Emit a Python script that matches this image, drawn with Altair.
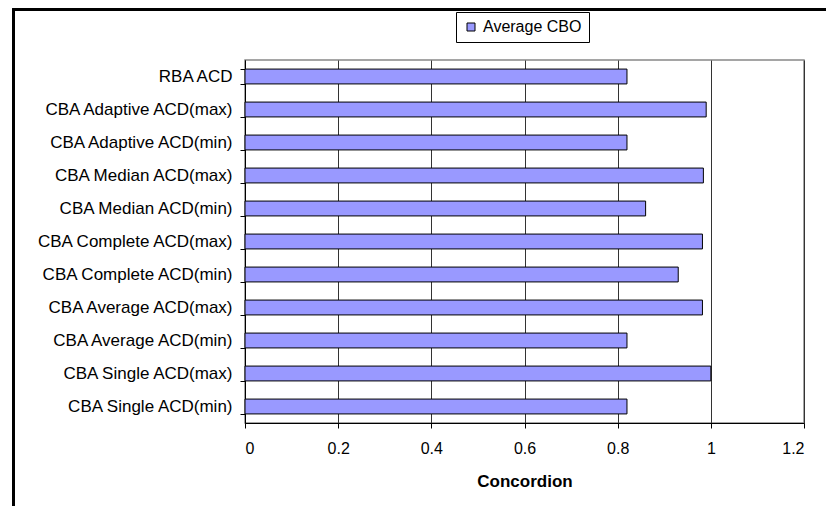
import altair as alt
import pandas as pd

# Categories listed top to bottom, with the average CBO concordance of each
methods = [
    "RBA ACD",
    "CBA Adaptive ACD(max)",
    "CBA Adaptive ACD(min)",
    "CBA Median ACD(max)",
    "CBA Median ACD(min)",
    "CBA Complete ACD(max)",
    "CBA Complete ACD(min)",
    "CBA Average ACD(max)",
    "CBA Average ACD(min)",
    "CBA Single ACD(max)",
    "CBA Single ACD(min)",
]
avg_cbo = [0.82, 0.99, 0.82, 0.984, 0.86, 0.982, 0.93, 0.982, 0.82, 1.0, 0.82]
series_name = "Average CBO"
x_ticks = [0, 0.2, 0.4, 0.6, 0.8, 1.0, 1.2]

df = pd.DataFrame({"method": methods, "value": avg_cbo, "series": series_name})

FONT = "Liberation Sans"

bars = alt.Chart(df).mark_bar(
    stroke="#000000", strokeWidth=1, color="#9999FF"
).encode(
    x=alt.X(
        "value:Q",
        scale=alt.Scale(domain=[0, 1.2], nice=False),
        axis=alt.Axis(
            values=x_ticks,
            format="~g",
            title="Concordion",
            grid=True,
            gridColor="#333333",
            gridWidth=1,
            tickSize=5,
            labelPadding=12,
            titlePadding=17,
        ),
    ),
    y=alt.Y(
        "method:N",
        sort=methods,
        scale=alt.Scale(paddingInner=0.55, paddingOuter=0.275),
        axis=alt.Axis(
            title=None,
            tickBand="extent",
            tickSize=5,
            labelPadding=8,
            labelLimit=0,
            labelFontSize=17,
            grid=False,
        ),
    ),
    color=alt.Color(
        "series:N",
        scale=alt.Scale(domain=[series_name], range=["#9999FF"]),
        legend=alt.Legend(
            title=None,
            orient="none",
            legendX=211,
            legendY=-48,
            symbolType="square",
            symbolSize=64,
            symbolStrokeColor="#000000",
            symbolStrokeWidth=1,
            symbolFillColor="#9999FF",
            strokeColor="#000000",
            padding=7,
            labelFontSize=16,
            labelFont=FONT,
            labelColor="#000000",
        ),
    ),
)

# Outer frame around the whole figure (top and left edges)
frame_top = alt.Chart(df).mark_rule(color="#000000", strokeWidth=2).encode(
    x=alt.value(-231.5), x2=alt.value(600), y=alt.value(-50.5)
)
frame_left = alt.Chart(df).mark_rule(color="#000000", strokeWidth=2).encode(
    x=alt.value(-231.5), y=alt.value(-51.5), y2=alt.value(460)
)

chart = alt.layer(bars, frame_top, frame_left).properties(
    width=559,
    height=363,
    padding={"left": 245, "top": 60, "right": 22, "bottom": 83},
    autosize="none",
    background="#ffffff",
).configure_view(
    stroke="#888888", strokeWidth=1.5
).configure_axis(
    labelFont=FONT,
    titleFont=FONT,
    labelFontSize=16,
    titleFontSize=17,
    titleFontWeight="bold",
    labelColor="#000000",
    titleColor="#000000",
    domainColor="#000000",
    domainWidth=1,
    tickColor="#000000",
    tickWidth=1,
)

chart.save("out.html", embed_options={"renderer": "svg", "actions": False})
